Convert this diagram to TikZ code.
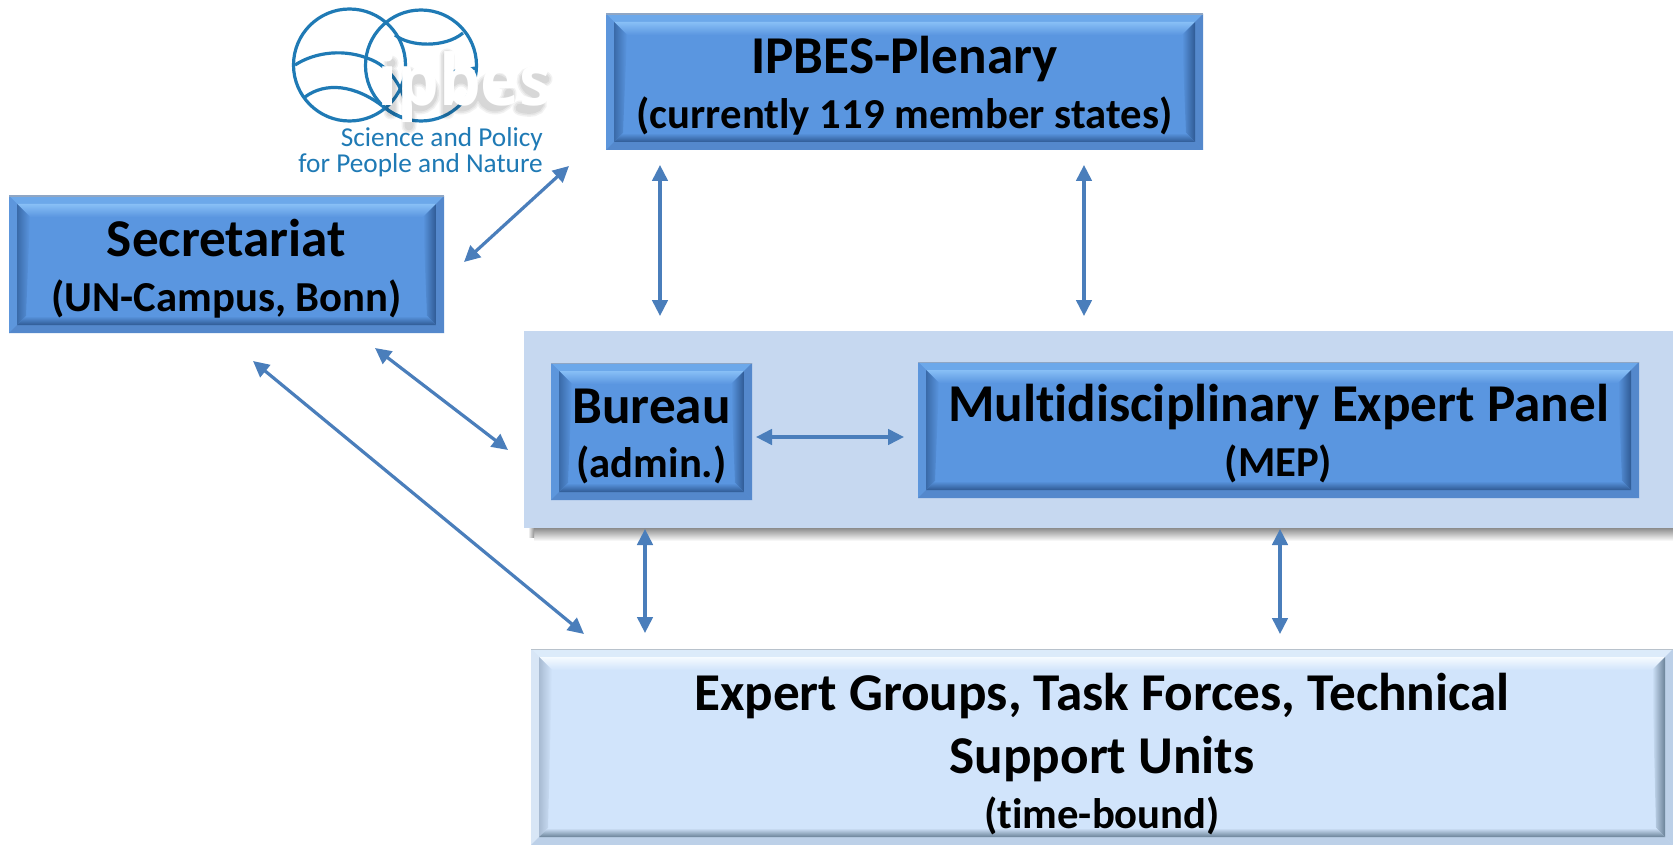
\documentclass[tikz,border=0pt]{standalone}
\usepackage{fontspec}
\usepackage{graphicx}
\setmainfont{Carlito}[Ligatures=CommonOff]
\newfontfamily\logofont{Open Sans}
\usetikzlibrary{arrows.meta,calc,shadings}
\definecolor{arrowblue}{HTML}{4A7EBB}
\definecolor{panelfill}{HTML}{C6D8F0}
\definecolor{logoblue}{HTML}{1F7AB5}
% blue bevel palette
\definecolor{bBase}{HTML}{5A96E0}
\definecolor{bTopO}{HTML}{6CA8EA}
\definecolor{bTopI}{HTML}{88BFF6}
\definecolor{bLeftO}{HTML}{5D96DC}
\definecolor{bLeftI}{HTML}{3A6AA8}
\definecolor{bRightO}{HTML}{5488CC}
\definecolor{bRightI}{HTML}{2F5A94}
\definecolor{bBotO}{HTML}{5488CC}
\definecolor{bBotI}{HTML}{2F5A94}
\definecolor{bEdge}{HTML}{8FA6C4}
% pale bevel palette
\definecolor{pBase}{HTML}{D1E4FB}
\definecolor{pTopO}{HTML}{DCEBFA}
\definecolor{pTopI}{HTML}{F6FBFF}
\definecolor{pLeftO}{HTML}{D8E6F6}
\definecolor{pLeftI}{HTML}{A8BBD2}
\definecolor{pRightO}{HTML}{BCD0E8}
\definecolor{pRightI}{HTML}{6A8298}
\definecolor{pBotO}{HTML}{BCD0E8}
\definecolor{pBotI}{HTML}{6A8298}
\definecolor{pEdge}{HTML}{B8C2CC}
\newcommand{\bevelart}[1]{%
  \path (path picture bounding box.north west) coordinate (nw)
        (path picture bounding box.north east) coordinate (ne)
        (path picture bounding box.south west) coordinate (sw)
        (path picture bounding box.south east) coordinate (se);
  \fill[#1Base] (nw) rectangle (se);
  % outer frame
  \fill[#1TopO] (nw) -- (ne) -- ($(ne)+(-8,8)$) -- ($(nw)+(8,8)$) -- cycle;
  \fill[#1LeftO] (nw) -- (sw) -- ($(sw)+(8,-8)$) -- ($(nw)+(8,8)$) -- cycle;
  \fill[#1RightO] (ne) -- (se) -- ($(se)+(-8,-8)$) -- ($(ne)+(-8,8)$) -- cycle;
  \fill[#1BotO] (sw) -- (se) -- ($(se)+(-8,-8)$) -- ($(sw)+(8,-8)$) -- cycle;
  % inner bevel, mitred bands fading into the face
  \shade[top color=#1TopI,bottom color=#1Base] ($(nw)+(8,8)$) -- ($(ne)+(-8,8)$) -- ($(ne)+(-21,21)$) -- ($(nw)+(21,21)$) -- cycle;
  \shade[left color=#1LeftI,right color=#1Base] ($(nw)+(8,8)$) -- ($(sw)+(8,-8)$) -- ($(sw)+(17,-17)$) -- ($(nw)+(21,21)$) -- cycle;
  \shade[left color=#1Base,right color=#1RightI] ($(ne)+(-8,8)$) -- ($(se)+(-8,-8)$) -- ($(se)+(-17,-17)$) -- ($(ne)+(-21,21)$) -- cycle;
  \shade[top color=#1Base,bottom color=#1BotI] ($(sw)+(8,-8)$) -- ($(se)+(-8,-8)$) -- ($(se)+(-17,-17)$) -- ($(sw)+(17,-17)$) -- cycle;
  \draw[#1Edge,line width=2pt] (nw) -- (ne);
}
\tikzset{
  x=1pt,y=-1pt,
  boxtext/.style={rectangle,inner sep=0pt,align=center,text=black,
    font=\bfseries\fontsize{43}{54.4}\selectfont},
  bluebox/.style={boxtext,path picture={\bevelart{b}}},
  palebox/.style={boxtext,path picture={\bevelart{p}}},
  twoway/.style={draw=arrowblue,line width=3.2pt,
    {Triangle[length=16pt,width=15.5pt,fill=arrowblue]}-{Triangle[length=16pt,width=15.5pt,fill=arrowblue]}},
  logoline/.style={draw=logoblue,line width=3.2pt},
}
\newcommand{\bigline}{\fontsize{53.2}{54.4}\selectfont}
\newcommand{\subline}{\fontsize{42.7}{54.4}\selectfont}
\newcommand{\toprule}[1]{\rule{0pt}{#1pt}}
\begin{document}
\begin{tikzpicture}
\useasboundingbox (0,0) rectangle (1673,845);
\fill[white] (0,0) rectangle (1673,845);

% panel shadow
\shade[top color=black!45,bottom color=white] (534,528) rectangle (1673,541);
\shade[left color=white,right color=black!45] (528,528) rectangle (534.2,537);
% panel
\node[fill=panelfill,inner sep=0pt,minimum width=1149pt,minimum height=197pt] (panel) at (1098.5,429.5) {};

% logo
\draw[logoline] (349.5,65) circle[radius=56];
\draw[logoline] (421,65.5) circle[radius=55.5];
\draw[logoline] (295,65) .. controls (315,52) and (345,48) .. (372,60) .. controls (390,68) and (400,85) .. (404,98);
\draw[logoline] (305,97) .. controls (325,82) and (355,84) .. (385,108) .. controls (392,113) and (398,116) .. (404,118);
\draw[logoline] (395,35) .. controls (410,47) and (445,48) .. (463,33);
\draw[logoline] (445,72) .. controls (455,72) and (468,69) .. (476,68);
% logo shadow drawn as strokes, not as text
\begin{scope}[shift={(5,6)},line cap=round]
 \foreach \w/\o in {15/.05,12/.05,9/.06}{
  \path[draw=black,line width=\w pt,opacity=\o]
    (386,68) -- (386,106) (386,57) -- (386,57.1)
    (404,68) -- (404,120) (414,87) circle[radius=14]
    (442,50) -- (442,106) (456,87) circle[radius=14]
    (504,87) arc[start angle=0,end angle=310,radius=14]
    (540,73) .. controls (525,62) and (512,72) .. (524,84) .. controls (540,92) and (538,108) .. (515,102);
 }
\end{scope}
\node[text=white,font=\logofont\fontsize{71}{71}\selectfont\bfseries,anchor=base west,inner sep=0pt] (logoword) at (377,106) {\scalebox{.93}[1]{ipbes}};
\node[text=logoblue,font=\fontsize{27.3}{26}\selectfont,anchor=north east,align=right,inner sep=0pt] (logotext) at (543,127) {Science and Policy\\for People and Nature};

% boxes
\node[bluebox,minimum width=597pt,minimum height=136pt] (plenary) at (904.5,82)
  {\toprule{44.5}\bigline IPBES-Plenary\\\subline (currently 119 member states)};
\node[bluebox,minimum width=435pt,minimum height=137pt] (secretariat) at (226.5,264.5)
  {\toprule{45.5}\bigline Secretariat\\\subline (UN-Campus, Bonn)};
\node[bluebox,minimum width=201pt,minimum height=137pt] (bureau) at (651.5,431.5)
  {\toprule{44.5}\bigline Bureau\\\subline (admin.)};
\node[bluebox,minimum width=721pt,minimum height=136pt] (mep) at (1278.5,430)
  {\toprule{44.5}\bigline Multidisciplinary Expert Panel\\\subline (MEP)};
\node[palebox,minimum width=1142pt,minimum height=196pt] (expert) at (1102,747)
  {\toprule{51}\bigline Expert Groups, Task Forces, Technical\\[9pt]\bigline Support Units\\\subline (time-bound)};

% connector ends
\coordinate (a1) at (464,262);\coordinate (a2) at (569,166);
\coordinate (b1) at (660,165);\coordinate (b2) at (660,316);
\coordinate (c1) at (1084,165);\coordinate (c2) at (1084,316);
\coordinate (d1) at (375,348);\coordinate (d2) at (508,450);
\coordinate (e1) at (253,361);\coordinate (e2) at (584,634);
\coordinate (f1) at (756,437);\coordinate (f2) at (904,437);
\coordinate (g1) at (645,529);\coordinate (g2) at (645,633);
\coordinate (h1) at (1280,529);\coordinate (h2) at (1280,634);
\draw[twoway] (a1) -- (a2);
\draw[twoway] (b1) -- (b2);
\draw[twoway] (c1) -- (c2);
\draw[twoway] (d1) -- (d2);
\draw[twoway] (e1) -- (e2);
\draw[twoway] (f1) -- (f2);
\draw[twoway] (g1) -- (g2);
\draw[twoway] (h1) -- (h2);
\end{tikzpicture}
\end{document}
